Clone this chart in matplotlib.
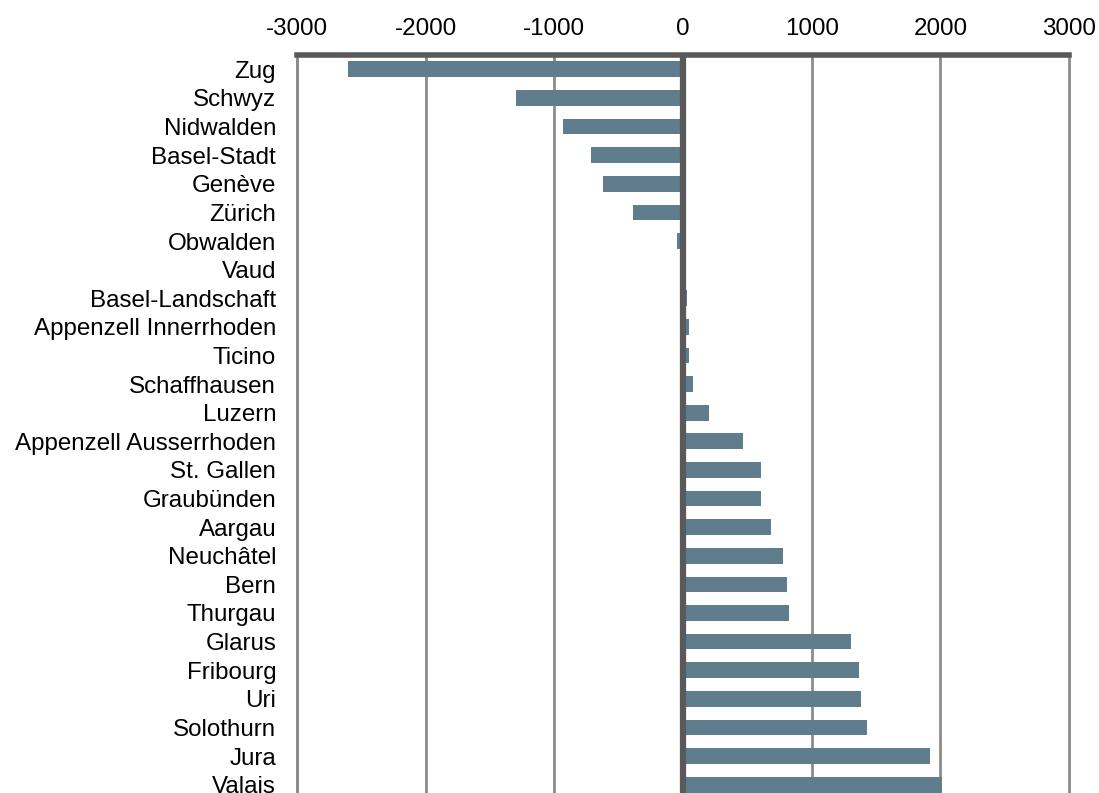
import matplotlib
matplotlib.use("Agg")
import matplotlib.pyplot as plt

cantons = ["Zug", "Schwyz", "Nidwalden", "Basel-Stadt", "Genève", "Zürich", "Obwalden",
           "Vaud", "Basel-Landschaft", "Appenzell Innerrhoden", "Ticino", "Schaffhausen",
           "Luzern", "Appenzell Ausserrhoden", "St. Gallen", "Graubünden", "Aargau",
           "Neuchâtel", "Bern", "Thurgau", "Glarus", "Fribourg", "Uri", "Solothurn",
           "Jura", "Valais"]
values = [-2600, -1300, -930, -713, -619, -386, -45,
          0, 31, 49, 49, 80,
          204, 466, 605, 605, 683,
          776, 807, 823, 1304, 1367, 1382, 1429,
          1923, 2016]
xticks = [-3000, -2000, -1000, 0, 1000, 2000, 3000]

plt.rcParams['font.family'] = ['Liberation Sans', 'DejaVu Sans']

fig = plt.figure(figsize=(10.99, 7.93), dpi=100)
ax = fig.add_axes([297/1099, 1 - 799/793, (1069 - 297)/1099, (799 - 55)/793])

y = list(range(len(cantons)))
ax.barh(y, values, height=0.55, color="#607d8e", zorder=3)
ax.set_ylim(len(cantons) - 0.5, -0.5)
ax.set_xlim(-3000, 3000)
ax.set_xticks(xticks)
ax.set_xticklabels([str(t) for t in xticks], fontsize=17.4)
ax.xaxis.tick_top()
ax.tick_params(axis='x', length=0, pad=11)
ax.set_yticks(y)
ax.set_yticklabels(cantons, fontsize=17.4)
ax.tick_params(axis='y', length=0, pad=15)

for t in xticks:
    if t == 0:
        continue
    ax.axvline(t, color="#8c8c8c", linewidth=2, zorder=1, clip_on=False)
ax.axvline(0, color="#595959", linewidth=4.5, zorder=4)

for s in ['right', 'bottom']:
    ax.spines[s].set_visible(False)
ax.spines['left'].set_color("#8c8c8c")
ax.spines['left'].set_linewidth(2)
ax.spines['top'].set_color("#595959")
ax.spines['top'].set_linewidth(4)

fig.savefig("out.png", dpi=100)
